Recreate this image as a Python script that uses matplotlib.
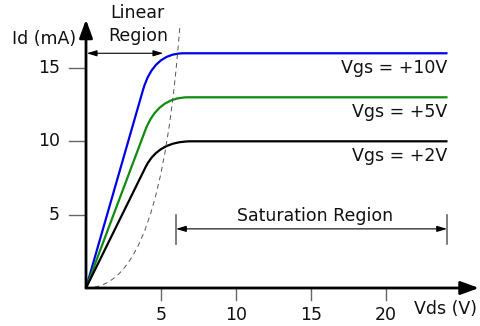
import numpy as np
import matplotlib.pyplot as plt
from matplotlib.path import Path
from matplotlib.patches import PathPatch

plt.rcParams['font.family'] = ['DejaVu Sans']

# values (Vds in V, Id in mA)
vgs_labels = ['Vgs = +10V', 'Vgs = +5V', 'Vgs = +2V']
colors = ['#0000e6', '#108a10', '#000000']
# each curve: origin, end of linear part, corner, start of flat part, end of flat part
curves = [
	[(0, 0), (3.8, 13.5), (4.5, 16.0), (6.5, 16.0), (24.1, 16.0)],
	[(0, 0), (3.95, 10.75), (4.78, 13.0), (6.8, 13.0), (24.1, 13.0)],
	[(0, 0), (4.0, 8.3), (4.85, 10.0), (7.0, 10.0), (24.1, 10.0)],
]
label_y = [15.0, 12.0, 9.0]
# dashed boundary between linear and saturation region (bezier control points)
bound = [(0, 0), (3.5, 0), (5.37, 5.9), (6.27, 18.0)]
xticks = [5, 10, 15, 20]
yticks = [5, 10, 15]

fig = plt.figure(figsize=(4.8, 3.26), dpi=100)
ax = fig.add_axes([0, 0, 1, 1])
ax.set_xlim(-86 / 15, (480 - 86) / 15)
ax.set_ylim((288 - 326) / 14.67, 288 / 14.67)
ax.axis('off')

codes = [Path.MOVETO, Path.LINETO, Path.CURVE3, Path.CURVE3, Path.LINETO]
for pts, c in zip(curves, colors):
	ax.add_patch(PathPatch(Path(pts, codes), fill=False, edgecolor=c, lw=1.6, capstyle='butt'))

ax.add_patch(PathPatch(Path(bound, [Path.MOVETO, Path.CURVE4, Path.CURVE4, Path.CURVE4]),
	fill=False, edgecolor='#555555', lw=0.7, linestyle=(0, (5, 4))))

fs = 12.5
for lab, y in zip(vgs_labels, label_y):
	ax.text(24.1, y, lab, ha='right', va='center', fontsize=fs, color='#111111')

# axes with arrows
ax.annotate('', xy=(26.2, 0), xytext=(0, 0),
	arrowprops=dict(arrowstyle='-|>,head_length=0.55,head_width=0.2', lw=2, color='black',
		mutation_scale=20, shrinkA=0, shrinkB=0))
ax.annotate('', xy=(0, 18.3), xytext=(0, 0),
	arrowprops=dict(arrowstyle='-|>,head_length=0.55,head_width=0.2', lw=2, color='black',
		mutation_scale=20, shrinkA=0, shrinkB=0))

for t in xticks:
	ax.plot([t, t], [-0.1, -0.85], color='#666666', lw=1)
	ax.text(t, -1.85, str(t), ha='center', va='center', fontsize=fs, color='#111111')
for t in yticks:
	ax.plot([-1.13, -0.13], [t, t], color='#666666', lw=1)
	ax.text(-1.75, t, str(t), ha='right', va='center', fontsize=fs, color='#111111')

ax.text(-0.65, 17.0, 'Id (mA)', ha='right', va='center', fontsize=fs, color='#111111')
ax.text(26.1, -1.4, 'Vds (V)', ha='right', va='center', fontsize=fs, color='#111111')

# linear region
ax.annotate('', xy=(5.15, 16.0), xytext=(0.05, 16.0),
	arrowprops=dict(arrowstyle='<|-|>,head_length=0.5,head_width=0.15', lw=0.8, color='black',
		mutation_scale=12, shrinkA=0, shrinkB=0))
ax.text(3.45, 18.75, 'Linear', ha='center', va='center', fontsize=fs, color='#111111')
ax.text(3.45, 17.2, 'Region', ha='center', va='center', fontsize=fs, color='#111111')

# saturation region
ax.annotate('', xy=(24.07, 4.03), xytext=(6.0, 4.03),
	arrowprops=dict(arrowstyle='<|-|>,head_length=0.5,head_width=0.15', lw=0.8, color='black',
		mutation_scale=12, shrinkA=0, shrinkB=0))
for x in [6.0, 24.07]:
	ax.plot([x, x], [3.0, 4.95], color='#666666', lw=1.2)
ax.text(15.3, 4.9, 'Saturation Region', ha='center', va='center', fontsize=fs, color='#111111')

fig.savefig('out.png', dpi=100)
